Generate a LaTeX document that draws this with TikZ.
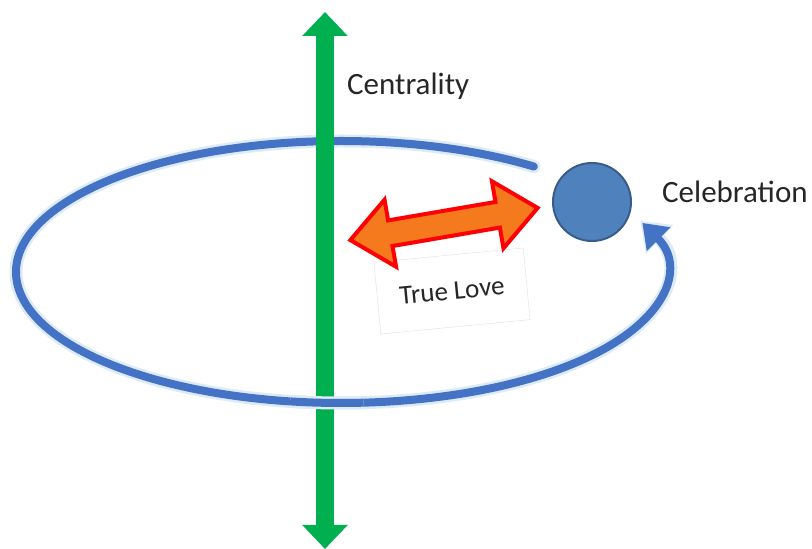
\documentclass[tikz,border=0pt]{standalone}
\usepackage{fontspec}
\setmainfont{Carlito}
\usetikzlibrary{arrows.meta,shapes.arrows}
\definecolor{ringblue}{HTML}{4472C4}
\definecolor{halo}{HTML}{DDEBF7}
\definecolor{axgreen}{HTML}{00B050}
\definecolor{dotblue}{HTML}{4F81BD}
\definecolor{dotedge}{HTML}{385D8A}
\definecolor{loveorange}{HTML}{F57A1E}
\definecolor{txt}{HTML}{262626}

\begin{document}
\begin{tikzpicture}[x=1pt,y=1pt,
  ringhalo/.style={draw=halo,line width=13pt},
  ringline/.style={draw=ringblue,line width=8pt},
  lbl/.style={font=\fontsize{31}{36}\selectfont,text=txt,inner sep=0pt}]
\useasboundingbox (0,0) rectangle (812,549);

\node[draw=gray!25,fill=white,minimum width=150pt,minimum height=72pt,rotate=5.5,inner sep=0pt,
  font=\fontsize{27}{32}\selectfont,text=txt] (lovebox) at (452,258) {True Love};

\coordinate (ringstart) at ({341+325*cos(53.6)},{277+131*sin(53.6)});
\coordinate (ringlow) at ({341+325*cos(261)},{277+131*sin(261)});
\draw[ringhalo,line cap=round,-{Triangle[width=38pt,length=27pt]}] (ringstart) arc[start angle=53.6,end angle=383,x radius=325,y radius=131];
\draw[ringline,line cap=round,-{Triangle[width=32pt,length=23pt]}] (ringstart) arc[start angle=53.6,end angle=382,x radius=325,y radius=131];

\coordinate (axtop) at (325,537);
\coordinate (axbot) at (325,0);
\draw[axgreen,line width=18pt,{Triangle[width=44pt,length=24pt]}-{Triangle[width=44pt,length=24pt]}] (axtop) -- (axbot);

\draw[ringhalo] (ringlow) arc[start angle=261,end angle=274,x radius=325,y radius=131];
\draw[ringline] (ringlow) arc[start angle=261,end angle=274,x radius=325,y radius=131];

\node[double arrow,draw=red,fill=loveorange,line width=4pt,minimum height=190pt,inner xsep=0pt,inner ysep=11pt,
  double arrow head extend=21pt,double arrow tip angle=80,rotate=9.75] (lovearrow) at (444,325) {};

\node[circle,fill=dotblue,draw=dotedge,line width=2pt,minimum size=78pt,inner sep=0pt] (dot) at (592,347) {};

\node[lbl,anchor=base west] (centrality) at (347,454) {Centrality};
\node[lbl,anchor=base west] (celebration) at (662,346) {Celebration};
\end{tikzpicture}
\end{document}
